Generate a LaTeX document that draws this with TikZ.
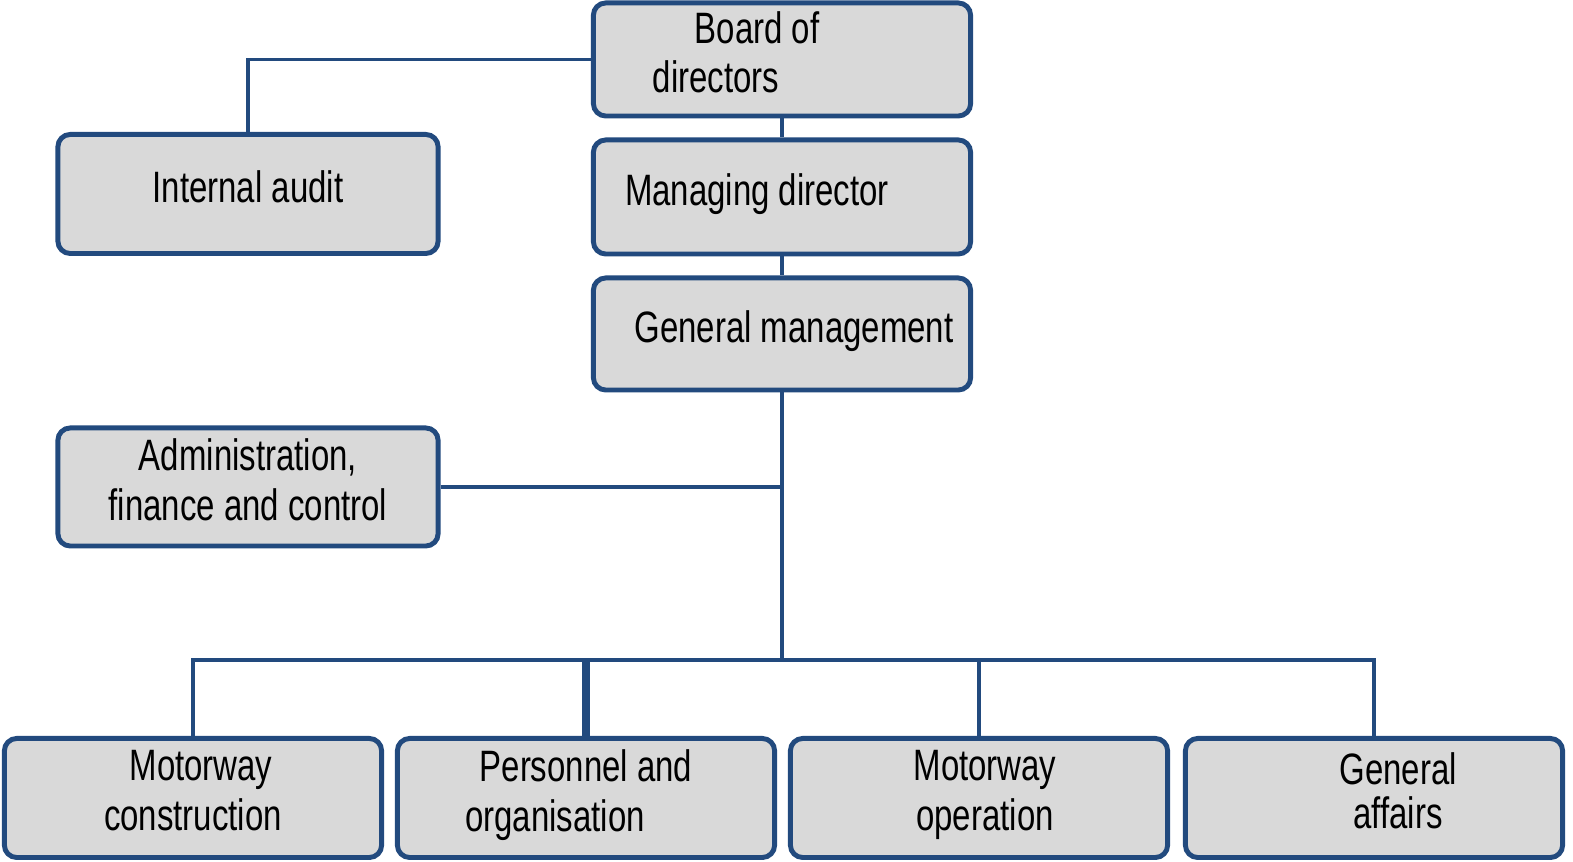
\documentclass[tikz,border=0pt]{standalone}
\usepackage{fontspec}
\setmainfont{Liberation Sans}[FakeStretch=0.75]
\usepackage{xcolor}
\usepackage{tikz}
\definecolor{boxblue}{RGB}{34,74,126}
\definecolor{boxgray}{RGB}{217,217,217}
\tikzset{
	orgbox/.style={draw=boxblue,fill=boxgray,line width=1.4pt,rounded corners=3.5pt,
		inner sep=0pt,align=center,minimum width=3.77cm,minimum height=1.19cm,
		text depth=0.15cm,font=\fontsize{12.5}{14}\selectfont},
	link/.style={draw=boxblue,line width=1.1pt}
}

\begin{document}
\begin{tikzpicture}[x=0.01cm,y=-0.01cm]
	\useasboundingbox (0,0) rectangle (1573,862);

	\node[orgbox,minimum height=1.13cm] (bod) at (782,59.5)
		{Board of\hspace*{0.5cm}\\directors\hspace*{1.32cm}};
	\node[orgbox,minimum height=1.14cm] (md) at (782,197)
		{Managing director\hspace*{0.5cm}};
	\node[orgbox,minimum height=1.12cm] (gm) at (782,334)
		{\hspace*{0.24cm}General management};
	\node[orgbox,minimum width=3.80cm] (ia) at (248,194)
		{Internal audit};
	\node[orgbox,minimum width=3.80cm,minimum height=1.18cm] (afc) at (248,487)
		{Administration,\\finance and control};

	\node[orgbox] (mc) at (193,798)
		{\hspace*{0.16cm}Motorway\\construction};
	\node[orgbox] (po) at (586,798)
		{Personnel and\\organisation\hspace*{0.62cm}};
	\node[orgbox] (mo) at (979,798)
		{\hspace*{0.12cm}Motorway\\\hspace*{0.12cm}operation};
	\node[orgbox,font=\fontsize{12.5}{12.3}\selectfont] (ga) at (1374,798)
		{\hspace*{0.48cm}General\\\hspace*{0.48cm}affairs};

%	====================================================================
	\coordinate (bus) at (gm.south |- 0,660);

	\draw[link] (bod.west) -| (ia.north);
	\draw[link] (bod.south) -- (md.north);
	\draw[link] (md.south) -- (gm.north);
	\draw[link] (gm.south) -- (bus);
	\draw[link] (afc.east) -- (afc.east -| bus);
	\foreach \b in {mc,po,mo,ga}
		\draw[link] (bus) -| (\b.north);
	\draw[link,line width=2pt] (po.north) -- (po.north |- bus);
%	====================================================================
\end{tikzpicture}
\end{document}
